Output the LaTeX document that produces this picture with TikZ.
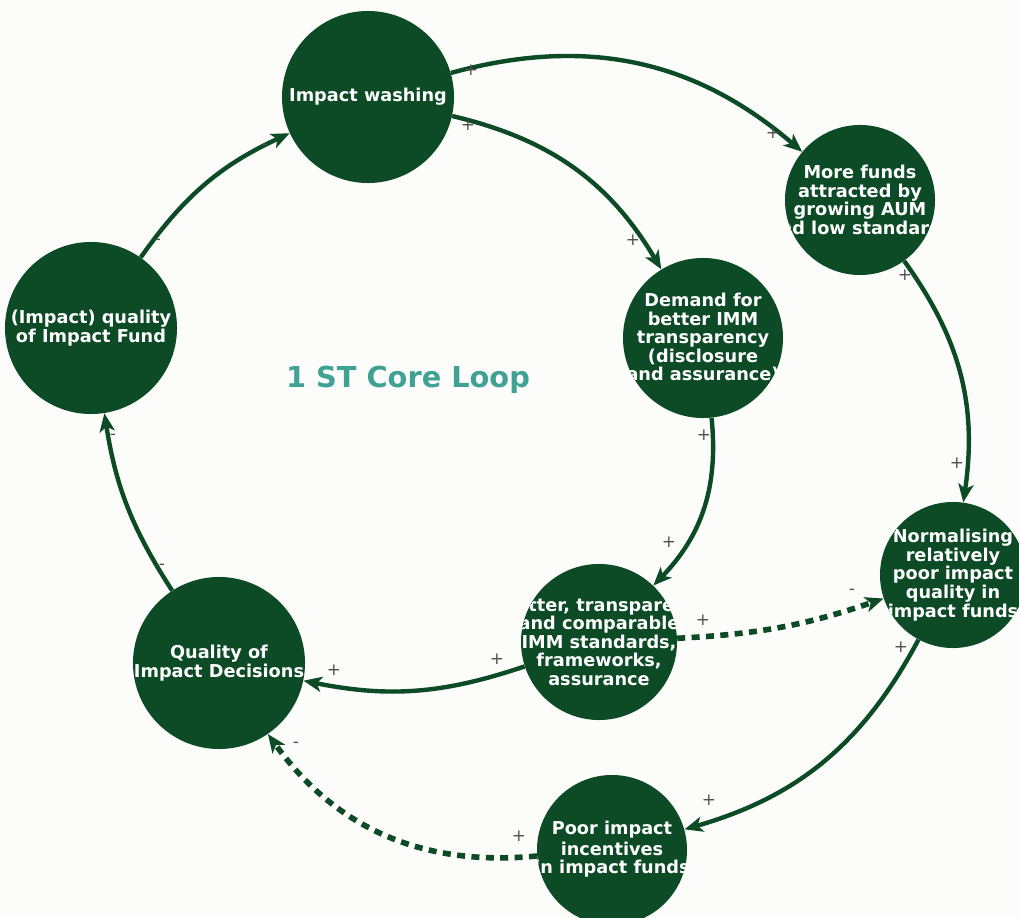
\documentclass[tikz,border=0pt]{standalone}
\usepackage{fontspec}
\setmainfont{DejaVu Sans}
\usepackage{tikz}
\usetikzlibrary{arrows.meta,positioning}
\definecolor{loopc}{HTML}{0C4B25}
\definecolor{titlec}{HTML}{3FA294}
\definecolor{signc}{HTML}{505050}
\definecolor{paperc}{HTML}{FCFDFA}
\tikzset{
  >={Stealth[length=4.6mm,width=3.8mm,inset=1.2mm]},
  loopnode/.style={circle,fill=loopc,inner sep=0pt,minimum size=#1},
  nodetext/.style={text=white,font=\bfseries\fontsize{12.6}{13.2}\selectfont,align=center,inner sep=0pt},
  says/.style={path picture={\node[nodetext] at (path picture bounding box.center) {#1};}},
  link/.style={->,draw=loopc,line width=1.1mm},
  weak/.style={->,draw=loopc,line width=1.4mm,dash pattern=on 2mm off 1.6mm},
  sign/.style={text=signc,font=\fontsize{12}{12}\selectfont,inner sep=0pt},
  title/.style={text=titlec,font=\bfseries\fontsize{20.5}{22}\selectfont},
}

\begin{document}
\begin{tikzpicture}[x=0.025cm,y=0.025cm]
  \fill[paperc] (0,0) rectangle (1019,-918);
  \useasboundingbox (0,0) rectangle (1019,-918);

  % variables of the loop
  \node[loopnode=4.3cm,says={Impact washing}] (wash) at (368,-97) {};
  \node[loopnode=3.75cm,says={More funds\\attracted by\\growing AUM\\and low standards}] (funds) at (860,-200) {};
  \node[loopnode=4cm,says={Demand for\\better IMM\\transparency\\(disclosure\\and assurance)}] (demand) at (703,-338) {};
  \node[loopnode=3.65cm,says={Normalising\\relatively\\poor impact\\quality in\\impact funds}] (norm) at (953,-575) {};
  \node[loopnode=3.9cm,says={Better, transparent\\and comparable\\IMM standards,\\frameworks,\\assurance}] (better) at (599,-642) {};
  \node[loopnode=4.3cm,says={Quality of\\Impact Decisions}] (decide) at (219,-663) {};
  \node[loopnode=3.75cm,says={\raisebox{1.5mm}{\shortstack{Poor impact\\incentives\\in impact funds}}}] (poor) at (612,-850) {};
  \node[loopnode=4.3cm,says={(Impact) quality\\of Impact Fund}] (quality) at (91,-328) {};

  \node[title] (core) at (408,-380) {1 ST Core Loop};

  % causal links
  \draw[link] (wash) to[bend left=28] (funds);
  \draw[link] (wash) to[bend left=23] (demand);
  \draw[link] (funds) to[bend left=22] (norm);
  \draw[link] (demand) to[bend left=25] (better);
  \draw[link] (better) to[bend left=15] (decide);
  \draw[weak] (better) to[bend right=8] (norm);
  \draw[link] (norm) to[bend left=23] (poor);
  \draw[weak] (poor) to[bend left=30] (decide);
  \draw[link] (decide) to[bend left=12] (quality);
  \draw[link] (quality) to[bend left=15] (wash);

  % polarity marks
  \node[sign] (s1a) at (471,-70) {+};
  \node[sign] (s1b) at (773,-133) {+};
  \node[sign] (s2a) at (468,-125) {+};
  \node[sign] (s2b) at (633,-240) {+};
  \node[sign] (s3a) at (905,-275) {+};
  \node[sign] (s3b) at (957,-463) {+};
  \node[sign] (s4a) at (704,-435) {+};
  \node[sign] (s4b) at (669,-542) {+};
  \node[sign] (s5a) at (497,-659) {+};
  \node[sign] (s5b) at (334,-670) {+};
  \node[sign] (s6a) at (703,-620) {+};
  \node[sign] (s6b) at (852,-592) {-};
  \node[sign] (s7a) at (901,-647) {+};
  \node[sign] (s7b) at (709,-800) {+};
  \node[sign] (s8a) at (519,-836) {+};
  \node[sign] (s8b) at (296,-745) {-};
  \node[sign] (s9a) at (162,-567) {-};
  \node[sign] (s9b) at (113,-437) {-};
  \node[sign] (s10a) at (158,-242) {-};
  \node[sign] (s10b) at (265,-147) {-};
\end{tikzpicture}
\end{document}
